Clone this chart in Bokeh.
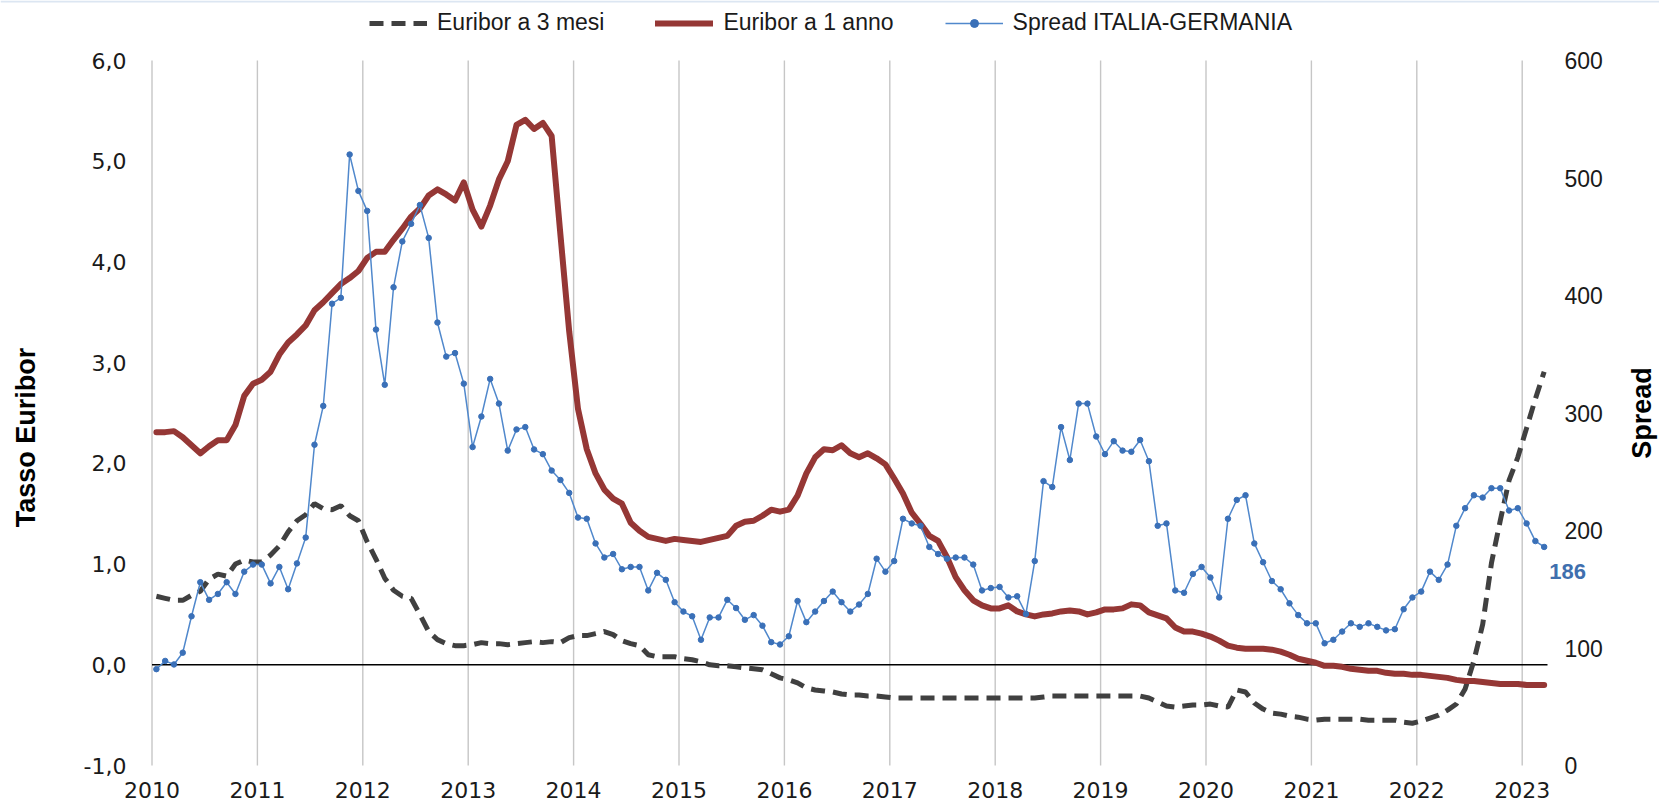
import math
import pandas as pd
from bokeh.plotting import figure
from bokeh.models import (Range1d, LinearAxis, FixedTicker, Legend, LegendItem,
                          CustomJSTickFormatter)
from bokeh.core.properties import value
from bokeh.embed import file_html
from bokeh.resources import INLINE

# ---------------- data (monthly, Jan 2010 - Mar 2023) ----------------
first_month = "2010-01"

euribor_3m = [
    0.68, 0.66, 0.64, 0.64, 0.69, 0.73, 0.85, 0.90, 0.88, 1.00, 1.04, 1.02,
    1.02, 1.09, 1.18, 1.32, 1.43, 1.49, 1.60, 1.55, 1.54, 1.58, 1.48, 1.43,
    1.22, 1.05, 0.86, 0.74, 0.68, 0.66, 0.50, 0.33, 0.25, 0.21, 0.19, 0.19,
    0.20, 0.22, 0.21, 0.21, 0.20, 0.21, 0.22, 0.23, 0.22, 0.23, 0.22, 0.27,
    0.29, 0.29, 0.31, 0.33, 0.30, 0.24, 0.21, 0.19, 0.10, 0.08, 0.08, 0.08,
    0.06, 0.05, 0.03, 0.00, -0.01, -0.01, -0.02, -0.03, -0.04, -0.05, -0.09, -0.13,
    -0.15, -0.18, -0.23, -0.25, -0.26, -0.27, -0.29, -0.30, -0.30, -0.31, -0.31, -0.32,
    -0.33, -0.33, -0.33, -0.33, -0.33, -0.33, -0.33, -0.33, -0.33, -0.33, -0.33, -0.33,
    -0.33, -0.33, -0.33, -0.33, -0.33, -0.32, -0.31, -0.31, -0.31, -0.31, -0.31, -0.31,
    -0.31, -0.31, -0.31, -0.31, -0.31, -0.33, -0.37, -0.41, -0.42, -0.41, -0.40, -0.40,
    -0.39, -0.41, -0.42, -0.25, -0.27, -0.38, -0.44, -0.48, -0.49, -0.51, -0.52, -0.54,
    -0.55, -0.54, -0.54, -0.54, -0.54, -0.54, -0.55, -0.55, -0.55, -0.55, -0.57, -0.58,
    -0.56, -0.53, -0.50, -0.45, -0.39, -0.24, 0.04, 0.40, 1.01, 1.43, 1.83, 2.06,
    2.35, 2.64, 2.91,
]

euribor_1y = [
    2.31, 2.31, 2.32, 2.26, 2.18, 2.10, 2.17, 2.23, 2.23, 2.38, 2.67, 2.79,
    2.83, 2.91, 3.08, 3.20, 3.28, 3.37, 3.52, 3.60, 3.69, 3.78, 3.84, 3.91,
    4.04, 4.10, 4.10, 4.22, 4.33, 4.45, 4.53, 4.66, 4.72, 4.67, 4.61, 4.79,
    4.52, 4.35, 4.56, 4.82, 5.00, 5.36, 5.41, 5.32, 5.38, 5.25, 4.27, 3.31,
    2.54, 2.14, 1.90, 1.74, 1.65, 1.60, 1.41, 1.33, 1.27, 1.25, 1.23, 1.25,
    1.24, 1.23, 1.22, 1.24, 1.26, 1.28, 1.38, 1.42, 1.43, 1.48, 1.54, 1.52,
    1.54, 1.68, 1.90, 2.06, 2.14, 2.13, 2.18, 2.10, 2.06, 2.10, 2.05, 1.99,
    1.85, 1.70, 1.51, 1.40, 1.28, 1.23, 1.07, 0.87, 0.74, 0.64, 0.59, 0.56,
    0.56, 0.59, 0.53, 0.50, 0.48, 0.50, 0.51, 0.53, 0.54, 0.53, 0.50, 0.52,
    0.55, 0.55, 0.56, 0.60, 0.59, 0.52, 0.49, 0.46, 0.37, 0.33, 0.33, 0.31,
    0.28, 0.24, 0.19, 0.17, 0.16, 0.16, 0.16, 0.15, 0.13, 0.10, 0.06, 0.04,
    0.02, -0.01, -0.01, -0.02, -0.04, -0.05, -0.06, -0.06, -0.08, -0.09, -0.09, -0.10,
    -0.10, -0.11, -0.12, -0.13, -0.15, -0.16, -0.16, -0.17, -0.18, -0.19, -0.19, -0.19,
    -0.20, -0.20, -0.20,
]

spread = [
    82, 89, 86, 96, 127, 156, 141, 146, 156, 146, 165, 171,
    171, 155, 169, 150, 172, 194, 273, 306, 393, 398, 520, 489,
    472, 371, 324, 407, 446, 461, 477, 449, 377, 348, 351, 325,
    271, 297, 329, 308, 268, 286, 288, 269, 265, 251, 243, 232,
    211, 210, 189, 177, 180, 167, 169, 169, 149, 164, 158, 139,
    131, 127, 107, 126, 126, 141, 134, 124, 128, 119, 105, 103,
    110, 140, 122, 131, 140, 148, 139, 131, 137, 146, 176, 165,
    174, 210, 206, 204, 186, 180, 176, 177, 177, 171, 149, 151,
    152, 143, 144, 129, 174, 242, 237, 288, 260, 308, 308, 280,
    265, 276, 268, 267, 277, 259, 204, 206, 149, 147, 163, 169,
    160, 143, 210, 226, 230, 189, 173, 157, 150, 138, 128, 121,
    121, 104, 107, 114, 121, 118, 121, 118, 115, 116, 133, 143,
    148, 165, 158, 171, 204, 219, 230, 228, 236, 236, 217, 219,
    206, 191, 186,
]

year_ticks = list(range(2010, 2024))
left_ticks = [-1, 0, 1, 2, 3, 4, 5, 6]
right_ticks = [0, 100, 200, 300, 400, 500, 600]

series_names = ["Euribor a 3 mesi", "Euribor a 1 anno", "Spread ITALIA-GERMANIA"]
left_title = "Tasso Euribor"
right_title = "Spread"

# x position of each monthly value (middle of its month, in decimal years)
months = pd.period_range(first_month, periods=len(spread), freq="M")
x = [m.year + (m.month - 0.5) / 12 for m in months]

# ---------------- layout constants (page pixels) ----------------
W, H = 1659, 807
X0_PX = 151.5           # pixel of the first year line (2010)
PX_PER_YEAR = 105.4
PLOT_T = 60             # pixel of 6,0 / 600
PLOT_B = 765            # pixel of -1,0 / 0
PLOT_R = 1547           # right edge of the plotted area
FRAME_B = 777           # bottom of the drawing frame (x labels below)
LEFT_LABEL_W = 43
RIGHT_LABEL_W = 38

x_start = year_ticks[0]
px_per_unit = (PLOT_B - PLOT_T) / (left_ticks[-1] - left_ticks[0])
px_per_bp = (PLOT_B - PLOT_T) / (right_ticks[-1] - right_ticks[0])

def xd(px):             # page pixel -> x value
    return x_start + (px - X0_PX) / PX_PER_YEAR

def yd(px):             # page pixel -> left-axis value
    return left_ticks[-1] + (PLOT_T - px) / px_per_unit

def sd(px):             # page pixel -> spread value
    return right_ticks[-1] + (PLOT_T - px) / px_per_bp

plot_end = xd(PLOT_R)

# the frame covers the whole figure except the bottom axis band
p = figure(width=W, height=H, output_backend="svg", toolbar_location=None,
           x_range=Range1d(xd(0), xd(W)),
           y_range=Range1d(yd(FRAME_B), yd(0)),
           min_border_left=0, min_border_right=0, min_border_top=0,
           min_border_bottom=H - FRAME_B)
p.outline_line_color = None
p.background_fill_color = "white"
p.border_fill_color = "white"
p.extra_y_ranges = {"spread": Range1d(sd(FRAME_B), sd(0))}
p.xgrid.visible = False
p.ygrid.visible = False

# thin chart-area border line along the very top
p.line(x=[xd(0), xd(W)], y=[yd(1), yd(1)], line_color="#dce6f2", line_width=2)

# vertical year lines over the plotted area
p.segment(x0=year_ticks, y0=[left_ticks[0]] * len(year_ticks),
          x1=year_ticks, y1=[left_ticks[-1]] * len(year_ticks),
          line_color="#c6c6c6", line_width=1.4)

# bottom axis
p.xaxis.ticker = FixedTicker(ticks=year_ticks)
p.xaxis.axis_line_color = None
p.xaxis.major_tick_line_color = None
p.xaxis.minor_tick_line_color = None
p.xaxis.major_tick_out = 0
p.xaxis.major_tick_in = 0
p.xaxis.major_label_standoff = 4
p.xaxis.major_label_text_font = "DejaVu Sans"
p.xaxis.major_label_text_font_size = "22px"
p.xaxis.major_label_text_color = "#1a1a1a"

# left axis, pinned left of the plotted area (labels end at x = 126)
ax_l = p.yaxis[0]
ax_l.ticker = FixedTicker(ticks=left_ticks)
ax_l.formatter = CustomJSTickFormatter(code="return tick.toFixed(1).replace('.', ',');")
ax_l.fixed_location = xd(126 - LEFT_LABEL_W)
ax_l.major_label_standoff = -LEFT_LABEL_W
ax_l.axis_line_color = None
ax_l.major_tick_line_color = None
ax_l.minor_tick_line_color = None
ax_l.major_tick_out = 0
ax_l.major_tick_in = 0
ax_l.major_label_text_font = "DejaVu Sans"
ax_l.major_label_text_font_size = "22px"
ax_l.major_label_text_color = "#1a1a1a"

# right axis (spread), pinned right of the plotted area (labels start at x = 1564)
ax_r = LinearAxis(y_range_name="spread", ticker=FixedTicker(ticks=right_ticks),
                  fixed_location=xd(1564 + RIGHT_LABEL_W))
ax_r.axis_line_color = None
ax_r.major_tick_line_color = None
ax_r.minor_tick_line_color = None
ax_r.major_tick_out = 0
ax_r.major_tick_in = 0
ax_r.major_label_standoff = -RIGHT_LABEL_W
ax_r.major_label_text_font = "Liberation Sans"
ax_r.major_label_text_font_size = "23px"
ax_r.major_label_text_color = "#1a1a1a"
p.add_layout(ax_r, "right")

# axis titles, reading bottom-to-top
p.text(x=[xd(25.5)], y=[yd(437)], text=[left_title], angle=math.pi / 2,
       text_align="center", text_baseline="middle",
       text_font=value("Liberation Sans"), text_font_style="bold",
       text_font_size="27px", text_color="black")
p.text(x=[xd(1641)], y=[(right_ticks[0] + right_ticks[-1]) / 2], text=[right_title],
       y_range_name="spread", angle=math.pi / 2,
       text_align="center", text_baseline="middle",
       text_font=value("Liberation Sans"), text_font_style="bold",
       text_font_size="27px", text_color="black")

# zero line across the plotted area
p.line(x=[xd(X0_PX), plot_end], y=[0, 0], line_color="black", line_width=1.5)

# series
r3 = p.line(x, euribor_3m, line_color="#404040", line_width=5, line_dash="14 8")
r1 = p.line(x, euribor_1y, line_color="#953735", line_width=6, line_join="round",
            line_cap="round")
rs_line = p.line(x, spread, y_range_name="spread", line_color="#5088cc", line_width=1.5)
rs_dots = p.scatter(x, spread, y_range_name="spread", size=5.5, marker="circle",
                    fill_color="#3a70b8", line_color="#3a70b8")

# last value of the spread
p.text(x=[x[-1]], y=[spread[-1]], text=[f"{spread[-1]:.0f}"], y_range_name="spread",
       x_offset=5, y_offset=24.5, text_align="left", text_baseline="middle",
       text_font=value("Liberation Sans"), text_font_style="bold",
       text_font_size="22px", text_color="#3f6fae")

# legend above the plotted area (location = bottom-left corner, from frame bottom-left)
LEG_H = 26
legend = Legend(items=[LegendItem(label=series_names[0], renderers=[r3]),
                       LegendItem(label=series_names[1], renderers=[r1]),
                       LegendItem(label=series_names[2], renderers=[rs_line, rs_dots])],
                orientation="horizontal",
                location=(369, FRAME_B - (23 + LEG_H / 2)),
                glyph_width=58, glyph_height=20, label_height=LEG_H, label_standoff=10,
                spacing=51, padding=0, margin=0,
                label_text_font="Liberation Sans", label_text_font_size="23px",
                label_text_color="#1a1a1a",
                background_fill_alpha=0, border_line_color=None)
p.add_layout(legend, "center")

open("out.html", "w").write(file_html(p, INLINE))
